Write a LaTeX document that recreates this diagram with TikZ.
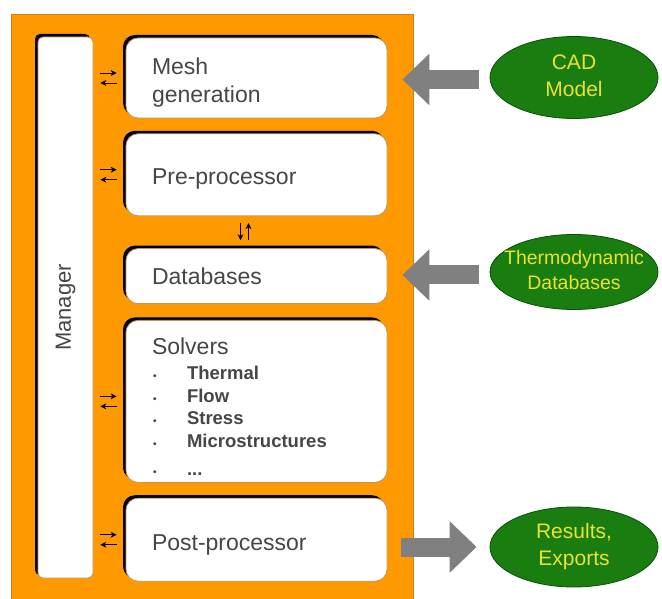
\documentclass[tikz,border=0pt]{standalone}
\usepackage{fontspec}
\setmainfont{Liberation Sans}
\usepackage{tikz}
\usetikzlibrary{shapes.geometric, arrows, arrows.meta, calc, positioning, shadows}
\definecolor{frame}{RGB}{255,153,0}
\definecolor{frameline}{RGB}{205,125,30}
\definecolor{boxline}{RGB}{185,150,110}
\definecolor{labeltext}{RGB}{70,70,70}
\definecolor{ovalfill}{RGB}{25,125,15}
\definecolor{ovalline}{RGB}{10,80,10}
\definecolor{ovaltext}{RGB}{235,225,50}
\definecolor{flowgray}{RGB}{128,128,128}
\newcommand{\boxfont}{\fontsize{23}{28}\selectfont}
\newcommand{\itemfont}{\fontsize{18.5}{22.5}\selectfont\bfseries}
\newcommand{\dotitem}{\makebox[35pt][l]{\hspace{1pt}\fontsize{10}{10}\selectfont\textbullet}}
\newcommand{\ovallines}[1]{\makebox[0pt]{\begin{tabular}{@{}c@{}}#1\end{tabular}}}
\tikzstyle{box} = [rectangle, rounded corners=12pt, draw=boxline, line width=0.8pt, fill=white, text=labeltext, font=\boxfont, text width=209pt, inner xsep=26pt, inner ysep=0pt, align=left, drop shadow={shadow xshift=-3pt, shadow yshift=3pt, fill=black, opacity=1}]
\tikzstyle{oval} = [ellipse, draw=ovalline, line width=0.8pt, fill=ovalfill, text=ovaltext, minimum width=168pt, minimum height=80pt, inner sep=0pt, font=\fontsize{21}{27}\selectfont]
\tikzstyle{link} = [line width=0.7pt, ->, >={Stealth[length=6pt, width=6pt]}]
\tikzstyle{bigarrow} = [line width=19pt, draw=flowgray, -{Triangle[length=27pt, width=50pt]}]

\begin{document}
\begin{tikzpicture}[x=1pt, y=1pt, node distance=15pt]
		\useasboundingbox (0,0) rectangle (662,598);
		\draw [fill=frame, draw=frameline] (11,-1) rectangle (413,584);
		\node (Manager) [box, rounded corners=5pt, text width=55pt, inner xsep=0pt, minimum height=541pt, align=center, font=\fontsize{22}{26}\selectfont] at (65.5,290.5) {\rotatebox{90}{Manager}};
		\node (Mesh) [box, minimum height=80pt, text height=25pt] at (256.5,520) {Mesh\\generation};
		\node (Pre) [box, minimum height=82pt, text height=25pt, below=of Mesh] {Pre-processor};
		\node (DB) [box, minimum height=55pt, below=32pt of Pre] {Databases};
		\node (Solvers) [box, minimum height=162pt, text height=27pt, below=16pt of DB] {Solvers\\[3pt]
			\itemfont\dotitem Thermal\\ \dotitem Flow\\ \dotitem Stress\\ \dotitem Microstructures\\ \dotitem ...};
		\node (Post) [box, minimum height=83pt, text height=27pt, below=of Solvers] {Post-processor};
		\node (CAD) [oval, minimum height=82pt] at (574,520.5) {\ovallines{CAD\\Model}};
		\node (Thermo) [oval, minimum height=75pt, font=\fontsize{19.5}{25}\selectfont] at (574,326) {\ovallines{Thermodynamic\\Databases}};
		\node (Results) [oval] at (574,51) {\ovallines{Results,\\Exports}};
		\draw [bigarrow] ($(CAD.west)+(-11,-2)$) -- ($(Mesh.east |- CAD.west)+(15,-2)$);
		\draw [bigarrow] ($(Thermo.west)+(-11,-3)$) -- ($(DB.east |- Thermo.west)+(15,-3)$);
		\draw [bigarrow] ($(Post.east |- Results.west)+(14,0)$) -- ($(Results.west)+(-13,0)$);
		\foreach \blk in {Mesh, Pre, Solvers, Post} {
			\draw [link] ($(Manager.east |- \blk.west)+(7,5)$) -- ($(\blk.west)+(-9,5)$);
			\draw [link] ($(\blk.west)+(-9,-5)$) -- ($(Manager.east |- \blk.west)+(7,-5)$);
		}
		\draw [link] ($(Pre.south)+(-16,-7)$) -- ($(DB.north)+(-16,8)$);
		\draw [link] ($(DB.north)+(-8,8)$) -- ($(Pre.south)+(-8,-7)$);
		\end{tikzpicture}
\end{document}
